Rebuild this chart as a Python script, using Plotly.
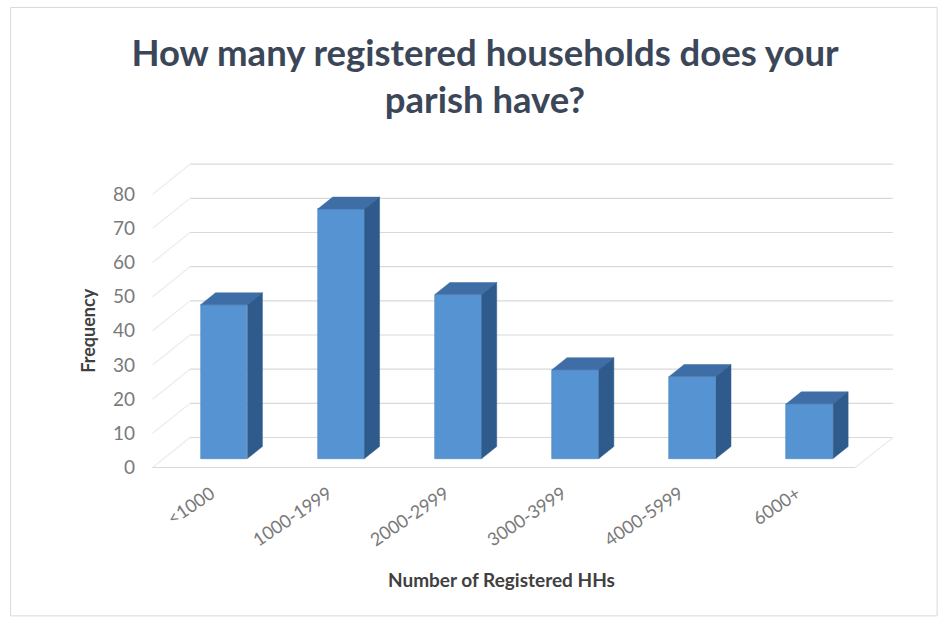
import plotly.graph_objects as go

# --- data -------------------------------------------------------------
categories = ["<1000", "1000-1999", "2000-2999", "3000-3999", "4000-5999", "6000+"]
frequency = [45, 73, 48, 26, 24, 16]
y_ticks = [0, 10, 20, 30, 40, 50, 60, 70, 80]

title_text = "How many registered households does your<br>parish have?"
x_title = "Number of Registered HHs"
y_title = "Frequency"

# --- page / plot geometry (pixels) --------------------------------------
W_PAGE, H_PAGE = 943, 624
PX_X = 117.2          # pixels per category step
PX_Y = 3.42           # pixels per frequency unit
X_RANGE = [-0.7, 5.95]
Y_RANGE = [-6, 90]
M_L = 141.5
M_T = 150.7
plot_w = (X_RANGE[1] - X_RANGE[0]) * PX_X
plot_h = (Y_RANGE[1] - Y_RANGE[0]) * PX_Y
M_R = W_PAGE - M_L - plot_w
M_B = H_PAGE - M_T - plot_h

# oblique depth direction: 1.25 px right for every px up
def depth(rise_px):
    return rise_px * 1.25 / PX_X, rise_px / PX_Y

BAR_W = 0.40
dxb, dyb = depth(12)      # bar depth
dxw, dyw = depth(21)      # bar front plane -> back wall
dxf, dyf = depth(-9)      # bar front plane -> front edge of floor
WALL_L = -0.29
WALL_R = 5.71
FRONT_L = WALL_L - dxw + dxf
FRONT_R = WALL_R - dxw + dxf
LABEL_SHIFT = 0.11        # category labels sit a little left of the column centre

FRONT = "#5693d2"
TOP = "#3f6ea6"
SIDE = "#2f5b8c"
GRID = "#d9d9d9"
SIDE_GRID = "#ececec"

fig = go.Figure()

shapes = []
# back wall gridlines
for v in y_ticks:
    shapes.append(dict(type="line", xref="x", yref="y", layer="below",
                       x0=WALL_L, x1=WALL_R, y0=v + dyw, y1=v + dyw,
                       line=dict(color=GRID, width=1.2)))
    # left side wall lines running from front to back
    shapes.append(dict(type="line", xref="x", yref="y", layer="below",
                       x0=FRONT_L, x1=WALL_L, y0=v + dyf, y1=v + dyw,
                       line=dict(color=SIDE_GRID, width=1.2)))
# floor front edge and right edge
shapes.append(dict(type="line", xref="x", yref="y", layer="below",
                   x0=FRONT_L, x1=FRONT_R, y0=dyf, y1=dyf,
                   line=dict(color=GRID, width=1.2)))
shapes.append(dict(type="line", xref="x", yref="y", layer="below",
                   x0=FRONT_R, x1=WALL_R, y0=dyf, y1=dyw,
                   line=dict(color=SIDE_GRID, width=1.2)))

# front faces of the columns
xs = list(range(len(categories)))
fig.add_trace(go.Bar(x=xs, y=frequency, width=BAR_W,
                     marker=dict(color=FRONT, line=dict(color="#4a84c0", width=0.6)),
                     showlegend=False, hoverinfo="skip"))

# top and side faces
for i, v in zip(xs, frequency):
    r = i + BAR_W / 2
    l = i - BAR_W / 2
    fig.add_trace(go.Scatter(
        x=[l, r, r + dxb, l + dxb, l], y=[v, v, v + dyb, v + dyb, v],
        mode="lines", fill="toself", fillcolor=TOP,
        line=dict(color=TOP, width=0.5), showlegend=False, hoverinfo="skip"))
    fig.add_trace(go.Scatter(
        x=[r, r, r + dxb, r + dxb, r], y=[0, v, v + dyb, dyb, 0],
        mode="lines", fill="toself", fillcolor=SIDE,
        line=dict(color=SIDE, width=0.5), showlegend=False, hoverinfo="skip"))

def paper_x(px):
    return (px - M_L) / plot_w

def paper_y(py):
    return (H_PAGE - M_B - py) / plot_h

annotations = [
    dict(text="<b>" + y_title + "</b>", textangle=-90, xref="paper", yref="paper",
         x=paper_x(88), y=paper_y(331), showarrow=False,
         font=dict(family="Lato", size=18, color="#404040"),
         xanchor="center", yanchor="middle"),
    dict(text="<b>" + x_title + "</b>", xref="paper", yref="paper",
         x=paper_x(501), y=paper_y(580), showarrow=False,
         font=dict(family="Lato", size=19, color="#404040"),
         xanchor="center", yanchor="middle"),
]
# chart area border
shapes.append(dict(type="rect", xref="paper", yref="paper",
                   x0=paper_x(10), x1=paper_x(937), y0=paper_y(616), y1=paper_y(7),
                   line=dict(color="#d9d9d9", width=1), layer="below"))

fig.update_layout(
    width=W_PAGE, height=H_PAGE,
    margin=dict(l=M_L, r=M_R, t=M_T, b=M_B, autoexpand=False),
    paper_bgcolor="white", plot_bgcolor="rgba(0,0,0,0)",
    title=dict(text="<b>" + title_text + "</b>", x=485 / W_PAGE, xanchor="center",
               y=1 - 66 / H_PAGE, yanchor="top",
               font=dict(family="Lato", size=36.5, color="#3b4758")),
    xaxis=dict(range=X_RANGE, tickvals=[i - LABEL_SHIFT for i in xs],
               ticktext=categories, tickangle=-34,
               showgrid=False, zeroline=False, showline=False, ticks="",
               tickfont=dict(family="Lato", size=18, color="#7a7a7a")),
    yaxis=dict(range=Y_RANGE, tickvals=[v + dyf for v in y_ticks],
               ticktext=[str(v) for v in y_ticks],
               showgrid=False, zeroline=False, showline=False, ticks="",
               ticklabelstandoff=6,
               tickfont=dict(family="Lato", size=19, color="#7a7a7a")),
    shapes=shapes, annotations=annotations, bargap=0,
)

fig.write_html("out.html")
